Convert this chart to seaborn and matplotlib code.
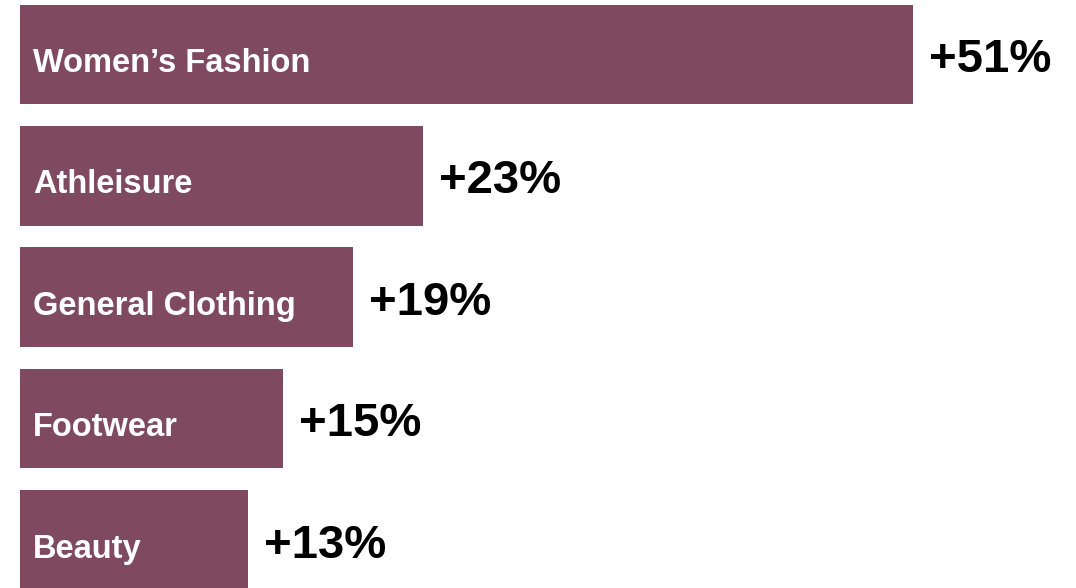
import matplotlib
matplotlib.use("Agg")
import matplotlib.pyplot as plt
import seaborn as sns
import pandas as pd

categories = ["Women\u2019s Fashion", "Athleisure", "General Clothing", "Footwear", "Beauty"]
values = [51, 23, 19, 15, 13]
value_labels = ["+51%", "+23%", "+19%", "+15%", "+13%"]

BAR_COLOR = "#7f4a5f"
FONT = ["Liberation Sans", "DejaVu Sans"]

sns.set_theme(style="white")
plt.rcParams["font.family"] = FONT

df = pd.DataFrame({"category": categories, "value": values})

W, H = 1076, 588
fig = plt.figure(figsize=(W / 100, H / 100), dpi=100)
ax = fig.add_axes([20 / W, 0, 1 - 20 / W, 1])

sns.barplot(data=df, y="category", x="value", orient="h", color=BAR_COLOR,
            saturation=1, width=0.82, ax=ax, order=categories, linewidth=0)

px_per_unit = 17.5
ax.set_xlim(0, (W - 20) / px_per_unit)
slot = 121.3
ax.set_ylim(4 + (H - 540) / slot, -54.5 / slot)

for i, (cat, v, lab) in enumerate(zip(categories, values, value_labels)):
    ax.annotate(cat, xy=(0, i), xytext=(9.5, -6.5), textcoords="offset points",
                ha="left", va="center", color="white", fontsize=23.5,
                fontweight="bold", family=FONT)
    ax.annotate(lab, xy=(v, i), xytext=(12, -4), textcoords="offset points",
                ha="left", va="center", color="black", fontsize=34,
                fontweight="bold", family=FONT)

ax.set_axis_off()
fig.savefig("out.png", dpi=100, facecolor="white")
